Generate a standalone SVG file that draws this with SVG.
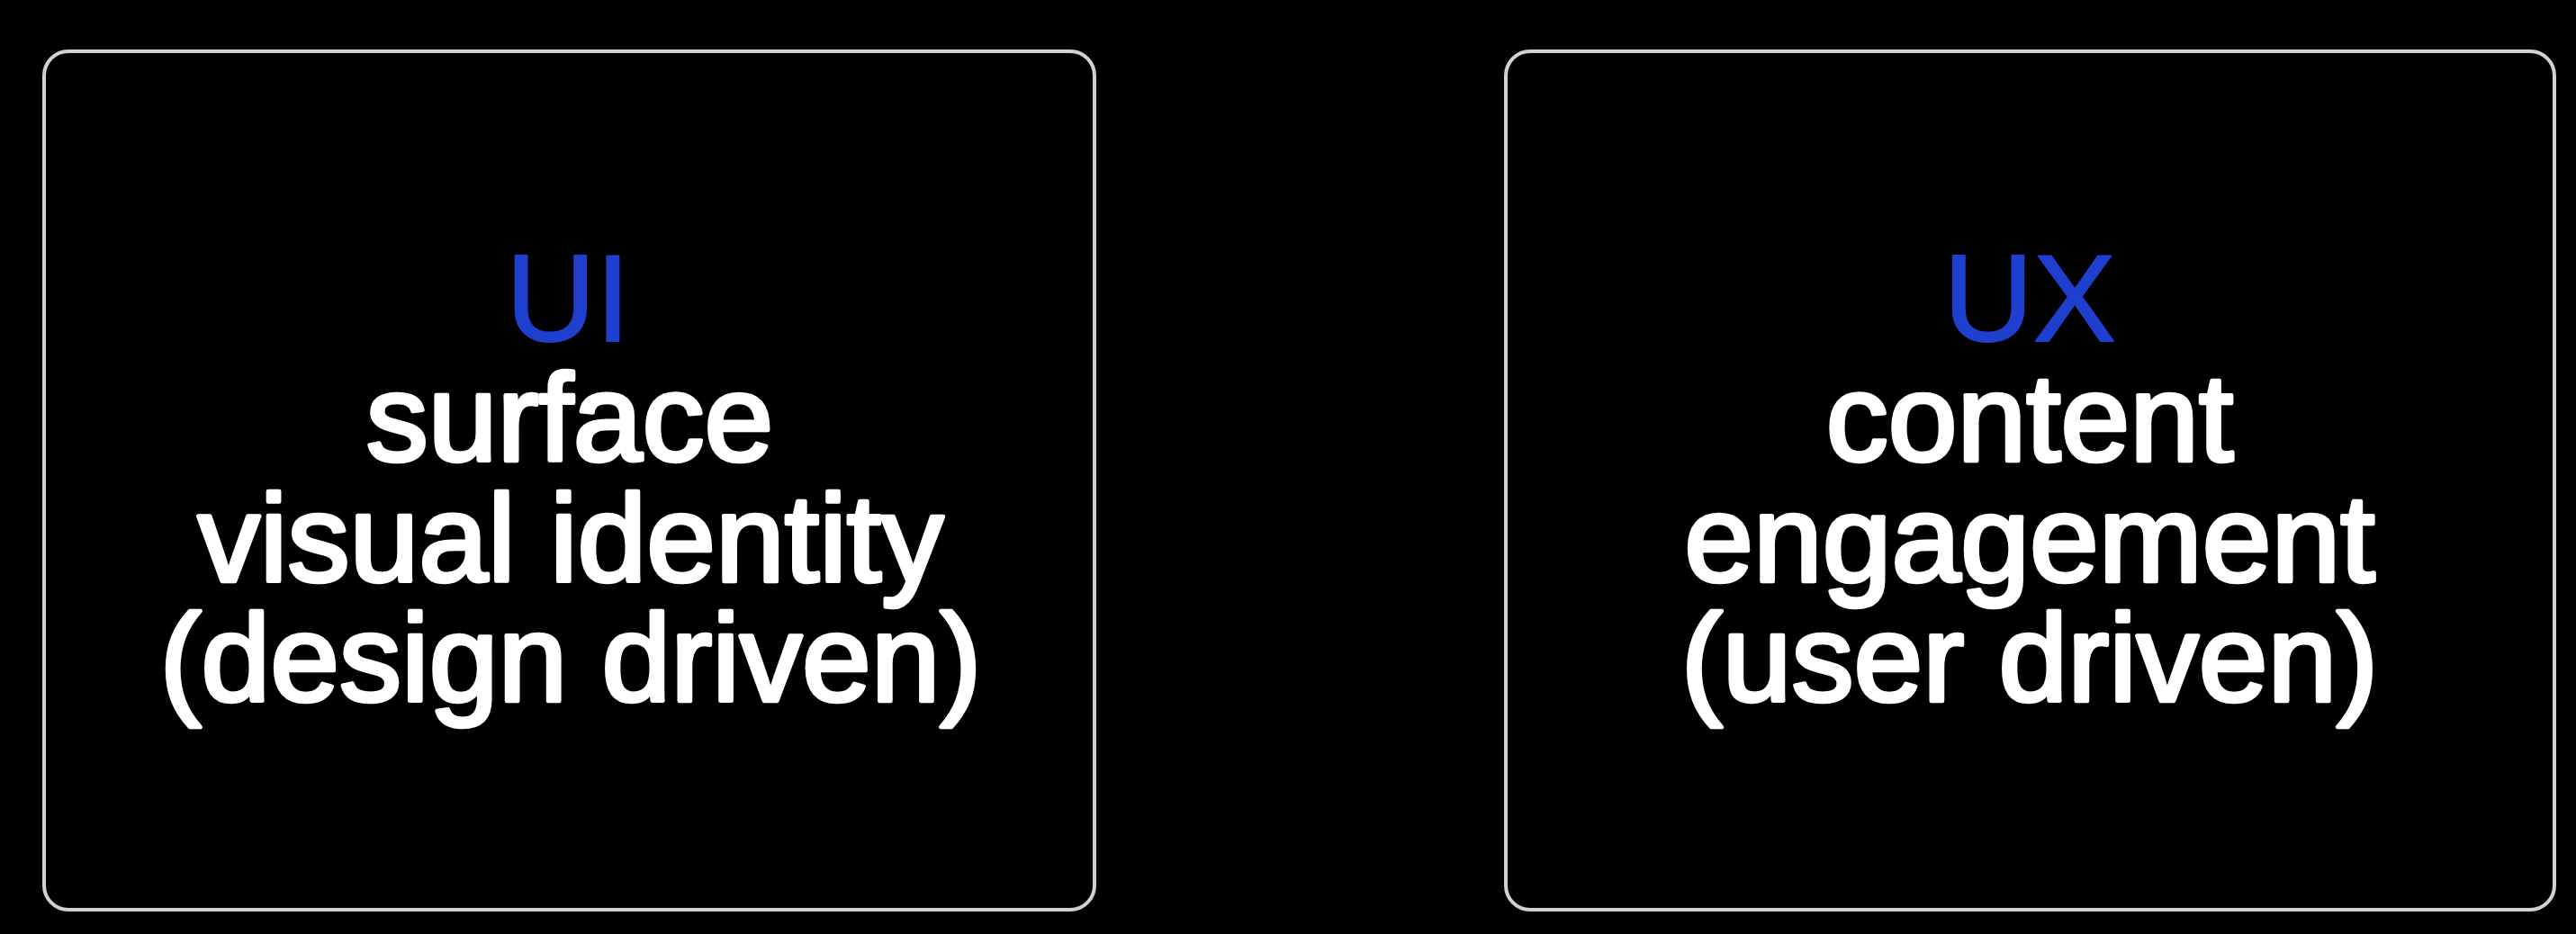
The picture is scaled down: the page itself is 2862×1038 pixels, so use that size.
<svg xmlns="http://www.w3.org/2000/svg" width="2862" height="1038" viewBox="0 0 2862 1038">
<style>
.box{fill:#000;stroke:#d2d2d2;stroke-width:4}
.t{font-family:"Liberation Sans",Arial,sans-serif;font-size:138px;text-anchor:middle;stroke-linejoin:round}
.h{fill:#1f3fcf;stroke:#1f3fcf;stroke-width:2}
.b{fill:#fff;stroke:#fff;stroke-width:4.5}
</style>
<rect width="2862" height="1038" fill="#000"/>
<g id="connectors"></g>
<g id="node-ui">
<rect class="box" x="49" y="57" width="1167" height="954" rx="27"/>
<text class="t h" x="631" y="379">UI</text>
<text class="t b" x="633" y="512">surface</text>
<text class="t b" x="634" y="646">visual identity</text>
<text class="t b" x="634" y="779">(design driven)</text>
</g>
<g id="node-ux">
<rect class="box" x="1673" y="57" width="1165" height="954" rx="27"/>
<text class="t h" x="2255" y="379">UX</text>
<text class="t b" x="2255" y="512">content</text>
<text class="t b" x="2255" y="646">engagement</text>
<text class="t b" x="2255" y="779">(user driven)</text>
</g>
</svg>
